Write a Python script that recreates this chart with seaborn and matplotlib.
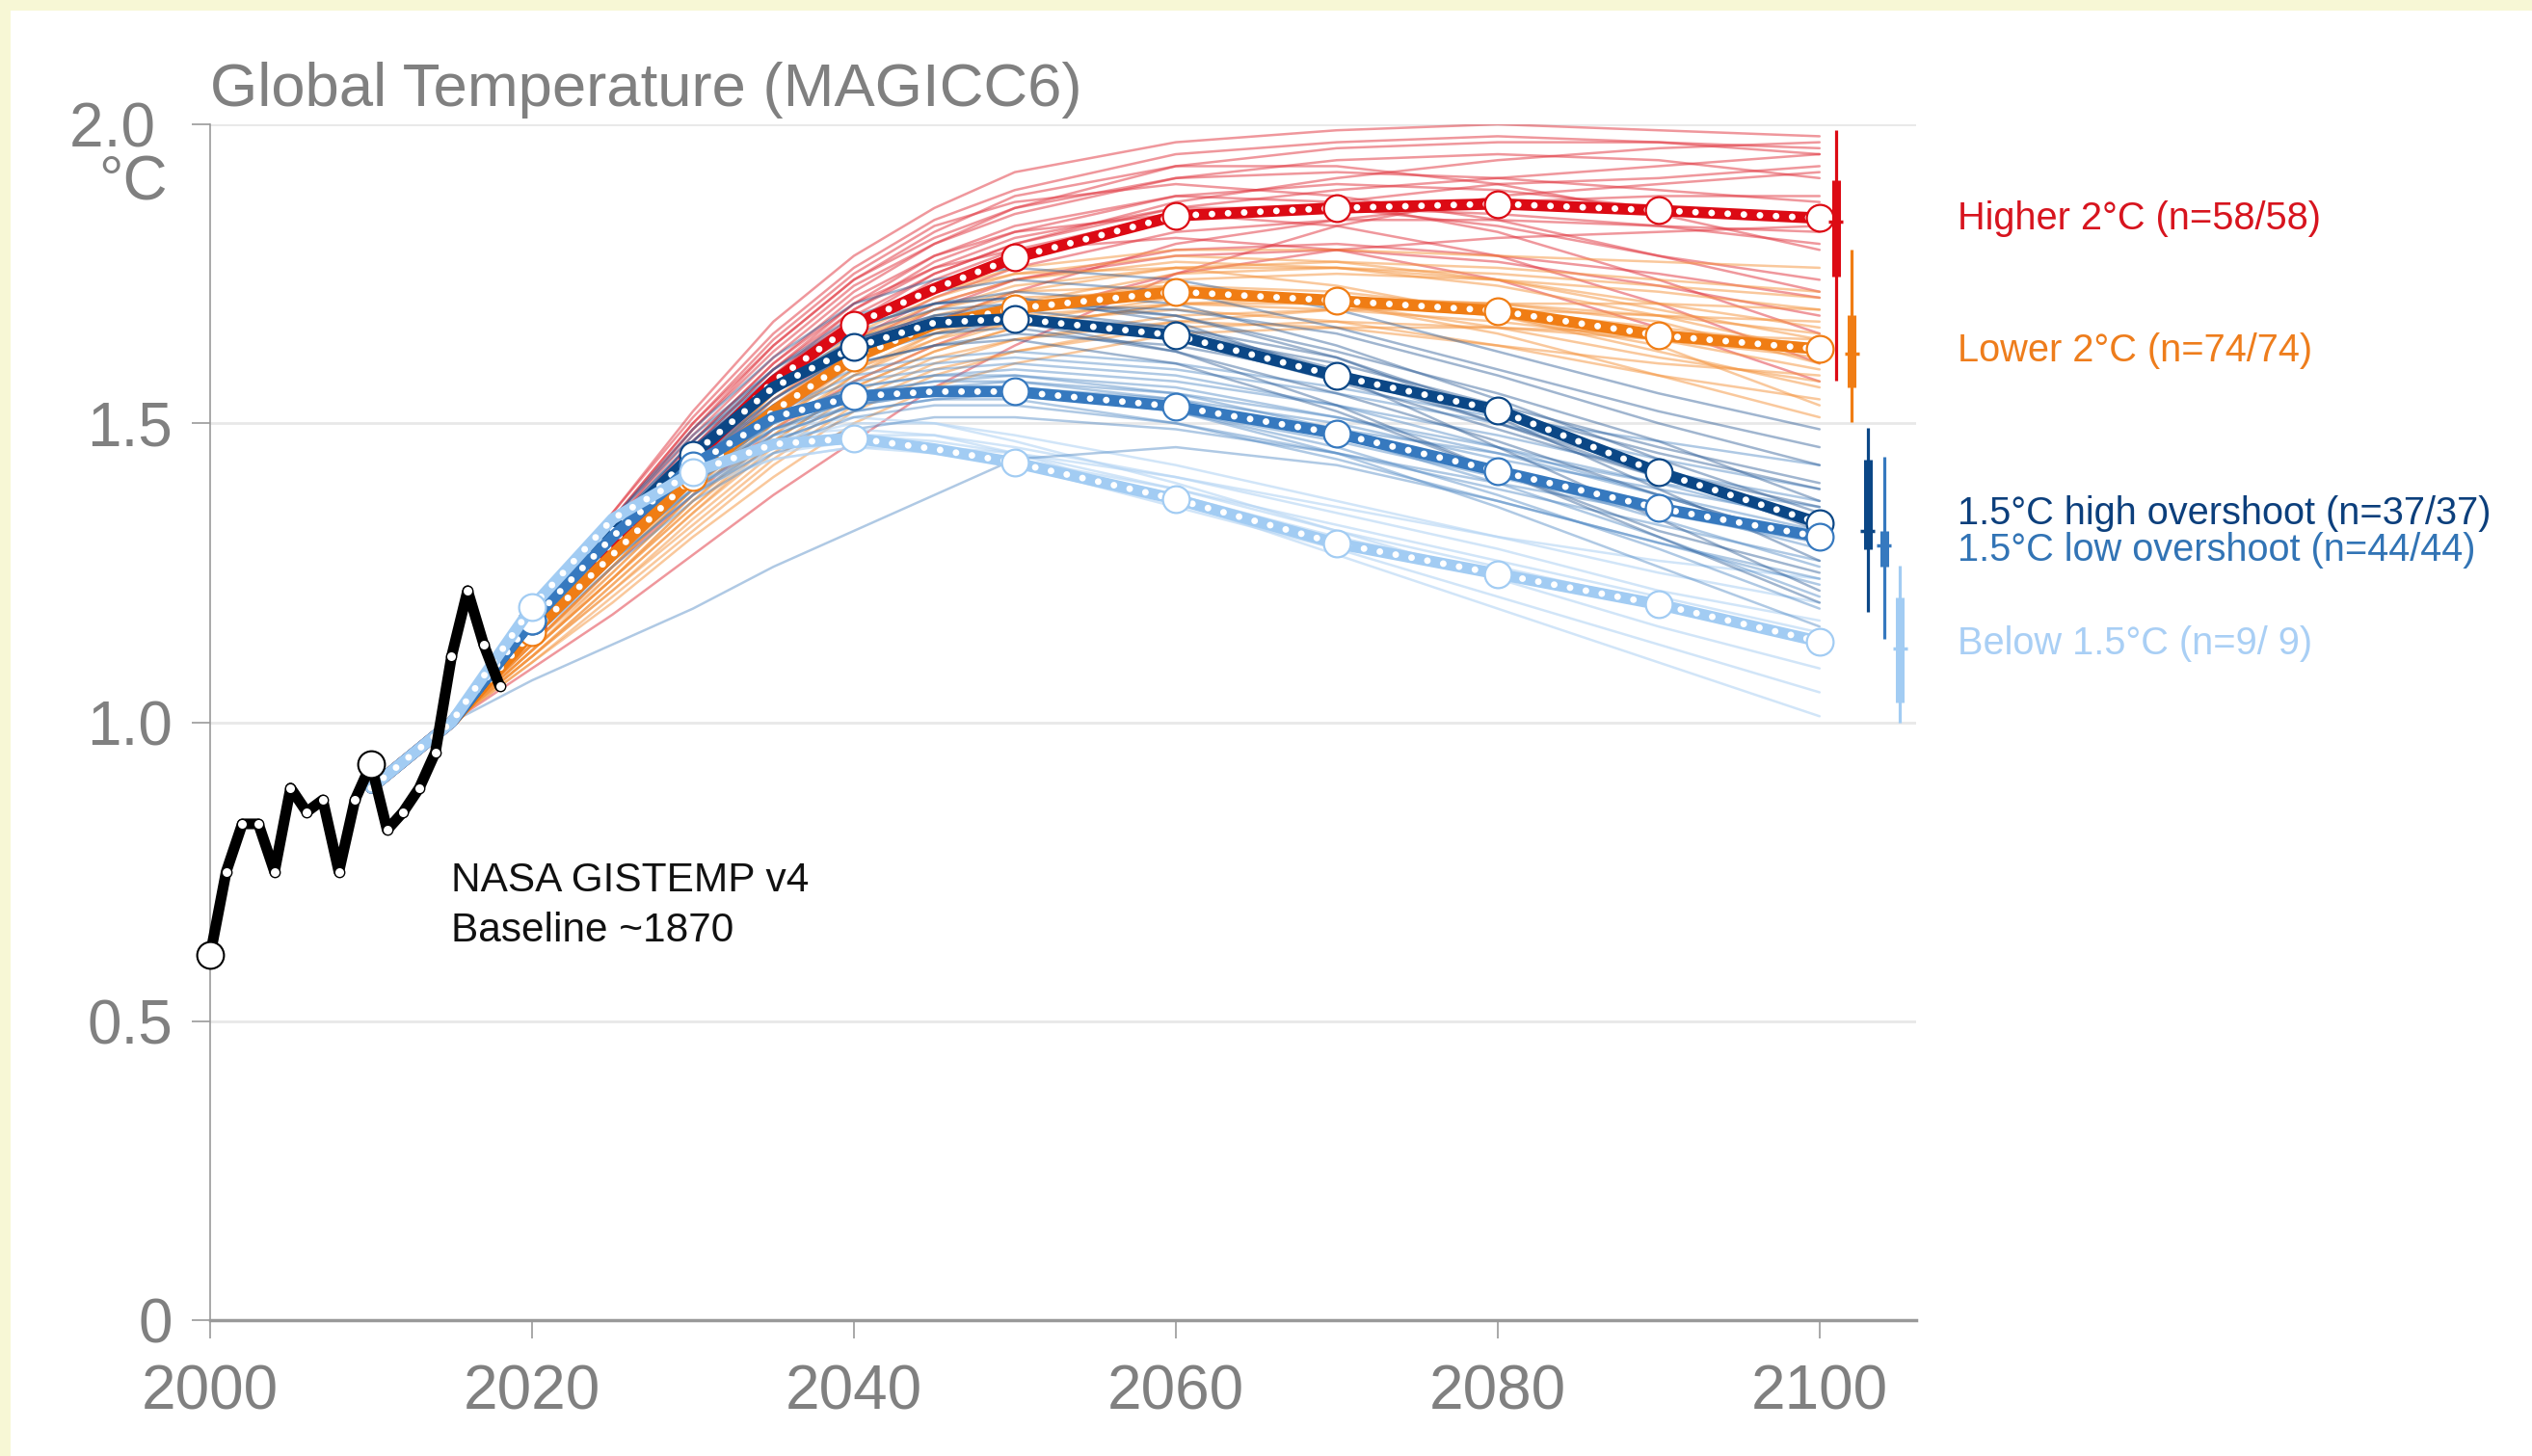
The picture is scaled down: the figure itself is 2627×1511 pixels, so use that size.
import numpy as np
import pandas as pd
import matplotlib
matplotlib.use('Agg')
import matplotlib.pyplot as plt
import seaborn as sns
from matplotlib.patches import Rectangle


# observed record, NASA GISTEMP v4 (baseline ~1870)
hist_years = list(range(2000, 2019))
hist_temp = [0.61, 0.75, 0.83, 0.83, 0.75, 0.89, 0.85, 0.87, 0.75, 0.87,
             0.93, 0.82, 0.85, 0.89, 0.95, 1.11, 1.22, 1.13, 1.06]

groups = ['Higher 2°C', 'Lower 2°C', '1.5°C high overshoot',
          '1.5°C low overshoot', 'Below 1.5°C']
counts = ['58/58', '74/74', '37/37', '44/44', '9/ 9']

# group medians
median_years = [2010, 2015, 2020, 2025, 2030, 2035, 2040, 2045, 2050,
                2060, 2070, 2080, 2090, 2100]
med_higher2 = [0.89, 1.00, 1.16, 1.30, 1.44, 1.57, 1.665, 1.725, 1.777,
               1.847, 1.860, 1.867, 1.856, 1.843]
med_lower2 = [0.89, 1.00, 1.15, 1.28, 1.41, 1.52, 1.61, 1.665, 1.692,
              1.720, 1.705, 1.688, 1.647, 1.624]
med_high_os = [0.89, 1.00, 1.17, 1.32, 1.448, 1.56, 1.627, 1.668, 1.675,
               1.647, 1.579, 1.522, 1.418, 1.333]
med_low_os = [0.89, 1.00, 1.17, 1.31, 1.43, 1.51, 1.545, 1.553, 1.553,
              1.528, 1.483, 1.420, 1.358, 1.310]
med_below15 = [0.89, 1.00, 1.193, 1.34, 1.418, 1.465, 1.475, 1.457, 1.434,
               1.373, 1.299, 1.248, 1.197, 1.135]

# individual scenarios (sample)
member_years = [2015, 2020, 2025, 2030, 2035, 2040, 2045, 2050, 2060, 2070, 2080, 2090, 2100]
higher2_runs = [
    [1.0, 1.18, 1.35, 1.52, 1.67, 1.78, 1.86, 1.92, 1.97, 1.99, 2.00, 1.99, 1.98],
    [1.0, 1.17, 1.33, 1.48, 1.61, 1.72, 1.80, 1.86, 1.93, 1.96, 1.97, 1.97, 1.96],
    [1.0, 1.16, 1.31, 1.45, 1.58, 1.68, 1.75, 1.80, 1.86, 1.89, 1.91, 1.93, 1.95],
    [1.0, 1.15, 1.30, 1.44, 1.56, 1.66, 1.74, 1.79, 1.85, 1.86, 1.85, 1.83, 1.80],
    [1.0, 1.17, 1.34, 1.50, 1.64, 1.75, 1.83, 1.87, 1.90, 1.88, 1.84, 1.78, 1.72],
    [1.0, 1.14, 1.27, 1.40, 1.51, 1.60, 1.67, 1.72, 1.80, 1.84, 1.87, 1.88, 1.88],
    [1.0, 1.16, 1.32, 1.46, 1.59, 1.70, 1.78, 1.83, 1.88, 1.87, 1.82, 1.74, 1.65],
    [1.0, 1.15, 1.29, 1.43, 1.55, 1.64, 1.71, 1.76, 1.82, 1.84, 1.84, 1.83, 1.82],
    [1.0, 1.13, 1.26, 1.38, 1.49, 1.57, 1.63, 1.68, 1.75, 1.79, 1.81, 1.82, 1.83],
    [1.0, 1.17, 1.34, 1.49, 1.63, 1.74, 1.82, 1.88, 1.93, 1.93, 1.90, 1.85, 1.79],
    [1.0, 1.09, 1.18, 1.28, 1.38, 1.47, 1.56, 1.63, 1.75, 1.83, 1.88, 1.90, 1.92],
    [1.0, 1.16, 1.32, 1.47, 1.60, 1.71, 1.78, 1.82, 1.85, 1.83, 1.78, 1.70, 1.60],
    [1.0, 1.18, 1.35, 1.51, 1.65, 1.76, 1.84, 1.89, 1.95, 1.97, 1.98, 1.97, 1.95],
    [1.0, 1.14, 1.28, 1.42, 1.54, 1.63, 1.70, 1.74, 1.78, 1.79, 1.77, 1.73, 1.68],
    [1.0, 1.15, 1.31, 1.45, 1.58, 1.69, 1.77, 1.82, 1.88, 1.90, 1.89, 1.86, 1.84],
    [1.0, 1.16, 1.32, 1.47, 1.60, 1.70, 1.76, 1.79, 1.81, 1.79, 1.74, 1.66, 1.57],
    [1.0, 1.17, 1.33, 1.49, 1.62, 1.73, 1.80, 1.85, 1.91, 1.94, 1.95, 1.94, 1.91],
    [1.0, 1.15, 1.30, 1.44, 1.57, 1.67, 1.75, 1.80, 1.87, 1.91, 1.94, 1.96, 1.97],
    [1.0, 1.16, 1.31, 1.46, 1.59, 1.69, 1.76, 1.81, 1.86, 1.86, 1.83, 1.78, 1.74],
    [1.0, 1.14, 1.27, 1.41, 1.53, 1.62, 1.69, 1.74, 1.79, 1.80, 1.78, 1.75, 1.71],
    [1.0, 1.17, 1.34, 1.50, 1.63, 1.74, 1.81, 1.86, 1.91, 1.92, 1.91, 1.89, 1.87],
    [1.0, 1.15, 1.29, 1.43, 1.56, 1.66, 1.73, 1.78, 1.84, 1.87, 1.90, 1.91, 1.93],
]
lower2_runs = [
    [1.0, 1.14, 1.27, 1.41, 1.53, 1.63, 1.69, 1.73, 1.76, 1.76, 1.75, 1.73, 1.71],
    [1.0, 1.13, 1.26, 1.39, 1.50, 1.60, 1.66, 1.70, 1.73, 1.72, 1.69, 1.66, 1.63],
    [1.0, 1.12, 1.24, 1.36, 1.47, 1.56, 1.62, 1.66, 1.70, 1.70, 1.68, 1.65, 1.62],
    [1.0, 1.14, 1.28, 1.42, 1.55, 1.65, 1.71, 1.75, 1.78, 1.77, 1.74, 1.69, 1.64],
    [1.0, 1.11, 1.22, 1.34, 1.45, 1.54, 1.60, 1.64, 1.68, 1.69, 1.69, 1.68, 1.67],
    [1.0, 1.12, 1.25, 1.38, 1.50, 1.59, 1.64, 1.67, 1.69, 1.67, 1.63, 1.58, 1.54],
    [1.0, 1.15, 1.29, 1.43, 1.56, 1.66, 1.72, 1.76, 1.79, 1.79, 1.78, 1.77, 1.76],
    [1.0, 1.13, 1.26, 1.40, 1.52, 1.62, 1.68, 1.71, 1.72, 1.70, 1.66, 1.61, 1.57],
    [1.0, 1.10, 1.20, 1.31, 1.41, 1.50, 1.56, 1.60, 1.65, 1.66, 1.66, 1.65, 1.64],
    [1.0, 1.12, 1.24, 1.37, 1.48, 1.58, 1.64, 1.69, 1.74, 1.75, 1.74, 1.72, 1.69],
    [1.0, 1.14, 1.27, 1.41, 1.54, 1.64, 1.69, 1.72, 1.73, 1.70, 1.65, 1.58, 1.51],
    [1.0, 1.11, 1.23, 1.35, 1.46, 1.55, 1.61, 1.64, 1.67, 1.66, 1.63, 1.60, 1.58],
    [1.0, 1.13, 1.26, 1.39, 1.51, 1.61, 1.67, 1.72, 1.76, 1.77, 1.76, 1.74, 1.72],
    [1.0, 1.12, 1.24, 1.36, 1.48, 1.57, 1.63, 1.67, 1.71, 1.71, 1.70, 1.67, 1.60],
    [1.0, 1.15, 1.30, 1.44, 1.57, 1.67, 1.72, 1.75, 1.76, 1.73, 1.68, 1.62, 1.56],
    [1.0, 1.11, 1.22, 1.33, 1.44, 1.53, 1.59, 1.62, 1.66, 1.67, 1.66, 1.64, 1.61],
    [1.0, 1.13, 1.25, 1.38, 1.50, 1.59, 1.65, 1.68, 1.70, 1.69, 1.67, 1.64, 1.59],
    [1.0, 1.12, 1.24, 1.37, 1.49, 1.58, 1.65, 1.70, 1.75, 1.76, 1.74, 1.70, 1.66],
    [1.0, 1.10, 1.21, 1.32, 1.43, 1.52, 1.58, 1.62, 1.67, 1.69, 1.70, 1.70, 1.69],
    [1.0, 1.14, 1.28, 1.42, 1.55, 1.64, 1.70, 1.74, 1.77, 1.76, 1.73, 1.68, 1.62],
    [1.0, 1.11, 1.23, 1.35, 1.47, 1.56, 1.62, 1.66, 1.70, 1.71, 1.70, 1.68, 1.65],
    [1.0, 1.13, 1.26, 1.39, 1.51, 1.60, 1.66, 1.70, 1.72, 1.71, 1.68, 1.63, 1.53],
]
high_os_runs = [
    [1.0, 1.18, 1.33, 1.47, 1.59, 1.68, 1.72, 1.74, 1.72, 1.66, 1.59, 1.52, 1.46],
    [1.0, 1.17, 1.32, 1.45, 1.56, 1.64, 1.68, 1.69, 1.66, 1.59, 1.50, 1.41, 1.33],
    [1.0, 1.16, 1.31, 1.44, 1.54, 1.62, 1.65, 1.66, 1.62, 1.55, 1.47, 1.38, 1.30],
    [1.0, 1.18, 1.34, 1.48, 1.59, 1.67, 1.70, 1.71, 1.67, 1.58, 1.46, 1.34, 1.22],
    [1.0, 1.15, 1.29, 1.42, 1.52, 1.60, 1.63, 1.65, 1.63, 1.58, 1.52, 1.45, 1.39],
    [1.0, 1.17, 1.32, 1.46, 1.58, 1.66, 1.70, 1.72, 1.70, 1.63, 1.54, 1.44, 1.35],
    [1.0, 1.16, 1.30, 1.43, 1.53, 1.61, 1.65, 1.67, 1.65, 1.60, 1.53, 1.46, 1.40],
    [1.0, 1.17, 1.32, 1.45, 1.55, 1.63, 1.66, 1.67, 1.62, 1.53, 1.42, 1.32, 1.25],
    [1.0, 1.18, 1.34, 1.49, 1.61, 1.70, 1.74, 1.76, 1.74, 1.69, 1.62, 1.55, 1.49],
    [1.0, 1.16, 1.31, 1.44, 1.55, 1.63, 1.67, 1.68, 1.66, 1.61, 1.52, 1.42, 1.32],
    [1.0, 1.15, 1.30, 1.42, 1.52, 1.60, 1.63, 1.64, 1.60, 1.52, 1.42, 1.31, 1.20],
    [1.0, 1.17, 1.33, 1.46, 1.57, 1.65, 1.69, 1.70, 1.68, 1.62, 1.55, 1.47, 1.37],
    [1.0, 1.17, 1.32, 1.46, 1.57, 1.64, 1.67, 1.68, 1.64, 1.57, 1.49, 1.41, 1.34],
    [1.0, 1.16, 1.31, 1.45, 1.56, 1.64, 1.68, 1.70, 1.69, 1.65, 1.58, 1.50, 1.43],
    [1.0, 1.18, 1.33, 1.47, 1.58, 1.66, 1.70, 1.71, 1.68, 1.61, 1.51, 1.39, 1.27],
    [1.0, 1.16, 1.30, 1.43, 1.54, 1.62, 1.66, 1.67, 1.64, 1.58, 1.50, 1.42, 1.36],
]
low_os_runs = [
    [1.0, 1.16, 1.30, 1.42, 1.51, 1.56, 1.58, 1.59, 1.57, 1.53, 1.48, 1.42, 1.37],
    [1.0, 1.15, 1.29, 1.40, 1.48, 1.53, 1.55, 1.55, 1.52, 1.47, 1.41, 1.35, 1.30],
    [1.0, 1.17, 1.31, 1.44, 1.53, 1.59, 1.61, 1.62, 1.60, 1.56, 1.51, 1.47, 1.43],
    [1.0, 1.15, 1.28, 1.39, 1.47, 1.52, 1.54, 1.54, 1.50, 1.44, 1.37, 1.30, 1.23],
    [1.0, 1.16, 1.30, 1.41, 1.50, 1.55, 1.57, 1.58, 1.56, 1.51, 1.45, 1.38, 1.32],
    [1.0, 1.14, 1.27, 1.38, 1.46, 1.51, 1.53, 1.53, 1.50, 1.45, 1.39, 1.33, 1.27],
    [1.0, 1.16, 1.31, 1.43, 1.52, 1.57, 1.59, 1.60, 1.58, 1.53, 1.46, 1.38, 1.30],
    [1.0, 1.15, 1.29, 1.40, 1.49, 1.54, 1.56, 1.56, 1.52, 1.45, 1.36, 1.26, 1.16],
    [1.0, 1.14, 1.26, 1.37, 1.45, 1.49, 1.51, 1.51, 1.49, 1.45, 1.40, 1.35, 1.31],
    [1.0, 1.16, 1.30, 1.42, 1.51, 1.56, 1.58, 1.58, 1.55, 1.49, 1.42, 1.34, 1.26],
    [1.0, 1.17, 1.31, 1.43, 1.52, 1.58, 1.60, 1.61, 1.59, 1.55, 1.50, 1.44, 1.39],
    [1.0, 1.15, 1.28, 1.39, 1.48, 1.53, 1.55, 1.55, 1.53, 1.48, 1.42, 1.36, 1.29],
    [1.0, 1.16, 1.29, 1.41, 1.50, 1.55, 1.57, 1.57, 1.54, 1.48, 1.40, 1.31, 1.21],
    [1.0, 1.07, 1.13, 1.19, 1.26, 1.32, 1.38, 1.44, 1.46, 1.43, 1.37, 1.30, 1.24],
    [1.0, 1.15, 1.29, 1.40, 1.49, 1.53, 1.56, 1.56, 1.54, 1.50, 1.44, 1.39, 1.34],
    [1.0, 1.16, 1.30, 1.42, 1.50, 1.55, 1.56, 1.56, 1.52, 1.46, 1.38, 1.29, 1.19],
    [1.0, 1.14, 1.27, 1.38, 1.47, 1.52, 1.54, 1.55, 1.53, 1.49, 1.45, 1.40, 1.36],
    [1.0, 1.15, 1.29, 1.41, 1.49, 1.54, 1.56, 1.57, 1.55, 1.51, 1.46, 1.40, 1.33],
]
below15_runs = [
    [1.0, 1.18, 1.32, 1.42, 1.47, 1.50, 1.50, 1.48, 1.43, 1.37, 1.31, 1.25, 1.20],
    [1.0, 1.19, 1.34, 1.44, 1.49, 1.51, 1.50, 1.47, 1.40, 1.32, 1.24, 1.16, 1.09],
    [1.0, 1.17, 1.31, 1.40, 1.45, 1.47, 1.46, 1.44, 1.38, 1.31, 1.25, 1.19, 1.14],
    [1.0, 1.19, 1.33, 1.43, 1.48, 1.49, 1.48, 1.45, 1.37, 1.28, 1.19, 1.10, 1.01],
    [1.0, 1.16, 1.30, 1.39, 1.44, 1.46, 1.46, 1.45, 1.41, 1.36, 1.31, 1.27, 1.24],
    [1.0, 1.18, 1.32, 1.41, 1.46, 1.48, 1.47, 1.45, 1.39, 1.32, 1.26, 1.20, 1.13],
    [1.0, 1.17, 1.31, 1.40, 1.44, 1.46, 1.45, 1.43, 1.36, 1.29, 1.21, 1.13, 1.05],
    [1.0, 1.18, 1.32, 1.42, 1.47, 1.48, 1.48, 1.46, 1.41, 1.35, 1.29, 1.22, 1.17],
    [1.0, 1.17, 1.31, 1.41, 1.46, 1.47, 1.46, 1.44, 1.39, 1.33, 1.27, 1.21, 1.15],
]

# 2100 distribution (whisker / box / median)
box_whis_lo = [1.571, 1.502, 1.185, 1.140, 0.999]
box_q1 = [1.746, 1.560, 1.289, 1.260, 1.033]
box_med = [1.837, 1.617, 1.320, 1.296, 1.123]
box_q3 = [1.907, 1.681, 1.439, 1.320, 1.209]
box_whis_hi = [1.99, 1.790, 1.493, 1.444, 1.262]

line_colors = ['#dc0a14', '#f07d14', '#0b4786', '#3679bf', '#a2ccf3']
thin_colors = ['#e0303a', '#f5923a', '#2c5c96', '#4f88c4', '#b3d4f4']
thin_alpha = [0.5, 0.5, 0.45, 0.45, 0.6]
text_colors = ['#d7141e', '#ee7d1c', '#0c3f7c', '#3274b5', '#a9cff5']

medians = [med_higher2, med_lower2, med_high_os, med_low_os, med_below15]
member_sets = [higher2_runs, lower2_runs, high_os_runs, low_os_runs, below15_runs]

rows = []
for g, runs in zip(groups, member_sets):
    for i, run in enumerate(runs):
        for yr, t in zip(member_years, run):
            rows.append((g, g + str(i), yr, t))
df = pd.DataFrame(rows, columns=['group', 'member', 'year', 'temp'])


sns.set_theme(style='white')
plt.rcParams['font.family'] = ['Liberation Sans', 'DejaVu Sans']

W, H = 2627, 1511
fig = plt.figure(figsize=(26.27, 15.11), dpi=100, facecolor='#f7f7d5')
fig.patches.append(Rectangle((11 / W, 0), 1, 1 - 11 / H, transform=fig.transFigure,
                             facecolor='white', edgecolor='none', zorder=-10))

ax = fig.add_axes([218 / W, 1 - 1370 / H, (1988 - 218) / W, (1370 - 129) / H])
ax.set_facecolor('white')

# thin scenario lines
for k in [0, 1, 4, 3, 2]:
    sub = df[df['group'] == groups[k]]
    sns.lineplot(data=sub, x='year', y='temp', units='member', estimator=None,
                 color=thin_colors[k], lw=1.8, alpha=thin_alpha[k], ax=ax,
                 legend=False, zorder=2)

# medians: thick line, white dots, decade circles
decade_idx = [i for i, y in enumerate(median_years) if y % 10 == 0 and y >= 2020]
for k in [0, 1, 2, 3, 4]:
    z = 5 + 3 * k
    ax.plot(median_years, medians[k], color=line_colors[k], lw=8.5,
            solid_capstyle='round', solid_joinstyle='round', zorder=z)
    ax.plot(median_years, medians[k], color='white', lw=5,
            ls=(0, (0.01, 2.4)), dash_capstyle='round', zorder=z + 1)
    ax.plot(median_years, medians[k], ls='none', marker='o', ms=20,
            markevery=decade_idx, mfc='white', mec=line_colors[k], mew=1.6,
            zorder=z + 2)

# 2100 ranges
box_x = np.array([2101, 2102, 2103, 2104, 2105])
ax.vlines(box_x, box_whis_lo, box_whis_hi, colors=line_colors, lw=2.3, zorder=25)
ax.vlines(box_x, box_q1, box_q3, colors=line_colors, lw=6.5, zorder=25)
ax.hlines(box_med, box_x - 0.45, box_x + 0.45, colors=line_colors, lw=2.5, zorder=25)

# observations
ax.plot(hist_years, hist_temp, color='black', lw=8, zorder=30, clip_on=False)
ax.plot(hist_years, hist_temp, ls='none', marker='o', ms=7.5, mfc='white',
        mec='black', mew=1, zorder=31, clip_on=False)
ax.plot(hist_years[::10], hist_temp[::10], ls='none', marker='o', ms=20,
        mfc='white', mec='black', mew=1.5, zorder=32, clip_on=False)

ax.text(2015.0, 0.717, 'NASA GISTEMP v4', fontsize=30.5, color='#111111',
        va='baseline')
ax.text(2015.0, 0.633, 'Baseline ~1870', fontsize=30.5, color='#111111',
        va='baseline')

label_y = [1.842, 1.621, 1.349, 1.288, 1.131]
for k in range(5):
    ax.text(2108.6, label_y[k], groups[k] + ' (n=' + counts[k] + ')',
            color=text_colors[k], fontsize=28.6, va='center', ha='left')

ax.set_xlim(2000, 2106)
ax.set_ylim(0, 2.0)
ax.set_xticks([2000, 2020, 2040, 2060, 2080, 2100])
ax.set_yticks([0, 0.5, 1.0, 1.5, 2.0])
ax.set_yticklabels(['0', '0.5', '1.0', '1.5', '2.0 '])
ax.set_xlabel('')
ax.set_ylabel('')
ax.tick_params(axis='both', length=14, width=1.2, color='#999999',
               labelcolor='#808080', labelsize=46)
ax.tick_params(axis='x', pad=19, direction='out', bottom=True)
ax.tick_params(axis='y', pad=14, direction='out', left=True)
ax.yaxis.grid(True, color='#e8e8e8', lw=2)
ax.xaxis.grid(False)
ax.set_axisbelow(True)
for s in ['top', 'right']:
    ax.spines[s].set_visible(False)
ax.spines['left'].set_color('#999999')
ax.spines['left'].set_linewidth(1.2)
ax.spines['bottom'].set_color('#999999')
ax.spines['bottom'].set_linewidth(2.5)

fig.text(174 / W, 1 - 190 / H, '°C', ha='right', va='center', fontsize=46,
         color='#808080')
fig.text(218 / W, 1 - 110 / H, 'Global Temperature (MAGICC6)', ha='left',
         va='baseline', fontsize=45.6, color='#808080')

fig.savefig('out.png', dpi=100, facecolor=fig.get_facecolor())
